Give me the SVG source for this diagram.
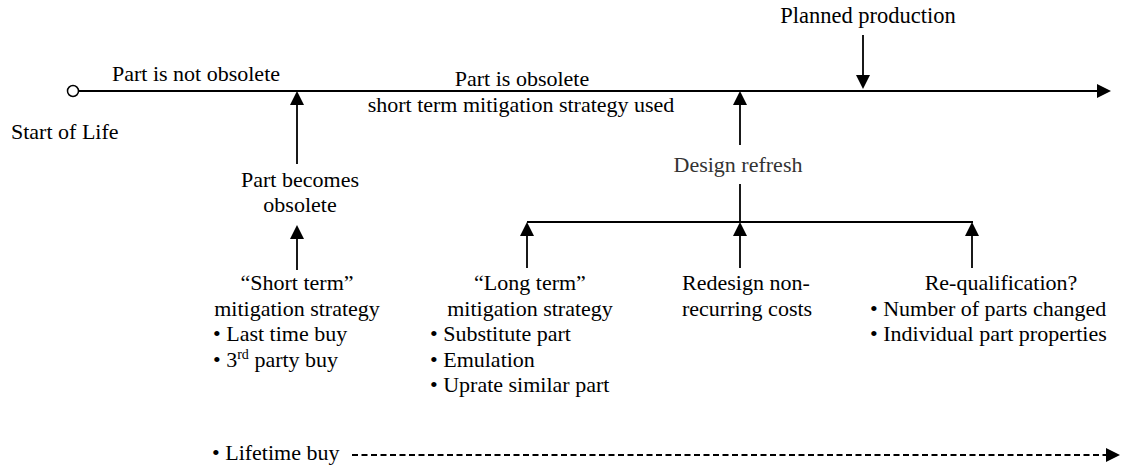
<svg xmlns="http://www.w3.org/2000/svg" width="1138" height="467" viewBox="0 0 1138 467">
<style>
text{font-family:"Liberation Serif","Times New Roman",serif;font-size:22px;fill:#000}
.m{text-anchor:middle}
.ln{stroke:#000;stroke-width:1.8;fill:none}
.dash{stroke-dasharray:6 3.5}
.dr{fill:#333}
</style>
<defs>
<marker id="ah" viewBox="0 -7 14 14" refX="0" refY="0" markerWidth="14" markerHeight="14" markerUnits="userSpaceOnUse" orient="auto">
<path d="M0,-7 L14,0 L0,7 z" fill="#000"/>
</marker>
</defs>
<rect width="1138" height="467" fill="#fff"/>
<g id="connectors">
<line class="ln" x1="78.5" y1="91" x2="1097" y2="91" marker-end="url(#ah)"/>
<line class="ln" x1="297" y1="164" x2="297" y2="105" marker-end="url(#ah)"/>
<line class="ln" x1="297" y1="270" x2="297" y2="239" marker-end="url(#ah)"/>
<line class="ln" x1="740" y1="145" x2="740" y2="105" marker-end="url(#ah)"/>
<line class="ln" x1="863" y1="35" x2="863" y2="75" marker-end="url(#ah)"/>
<line class="ln" x1="740" y1="184" x2="740" y2="222"/>
<line class="ln" x1="527" y1="222" x2="973" y2="222"/>
<line class="ln" x1="527" y1="268" x2="527" y2="236" marker-end="url(#ah)"/>
<line class="ln" x1="740" y1="268" x2="740" y2="236" marker-end="url(#ah)"/>
<line class="ln" x1="972" y1="268" x2="972" y2="236" marker-end="url(#ah)"/>
<line class="ln dash" x1="352" y1="455" x2="1106" y2="455" marker-end="url(#ah)"/>
</g>
<g id="start">
<circle cx="73" cy="91" r="5.5" fill="#fff" stroke="#000" stroke-width="1.5"/>
<text x="11" y="139">Start of Life</text>
</g>
<g id="not-obsolete"><text class="m" x="196" y="81">Part is not obsolete</text></g>
<g id="obsolete">
<text class="m" x="522" y="86">Part is obsolete</text>
<text class="m" x="521" y="112">short term mitigation strategy used</text>
</g>
<g id="planned"><text class="m" x="868" y="23" style="font-size:22.5px">Planned production</text></g>
<g id="becomes">
<text class="m" x="300" y="187">Part becomes</text>
<text class="m" x="300" y="212">obsolete</text>
</g>
<g id="refresh"><text class="m dr" x="738" y="172">Design refresh</text></g>
<g id="short-term">
<text class="m" x="297" y="290">“Short term”</text>
<text class="m" x="297" y="315.5">mitigation strategy</text>
<text x="213" y="341">• Last time buy</text>
<text x="213" y="366.5">• 3<tspan font-size="14" dy="-8">rd</tspan><tspan dy="8"> party buy</tspan></text>
</g>
<g id="long-term">
<text class="m" x="530" y="290">“Long term”</text>
<text class="m" x="530" y="315.5">mitigation strategy</text>
<text x="430" y="341">• Substitute part</text>
<text x="430" y="366.5">• Emulation</text>
<text x="430" y="392">• Uprate similar part</text>
</g>
<g id="redesign">
<text x="682" y="290">Redesign non-</text>
<text x="682" y="315.5">recurring costs</text>
</g>
<g id="requal">
<text class="m" x="1001" y="290">Re-qualification?</text>
<text x="870" y="315.5">• Number of parts changed</text>
<text x="870" y="341">• Individual part properties</text>
</g>
<g id="lifetime"><text x="212" y="460">• Lifetime buy</text></g>
</svg>
